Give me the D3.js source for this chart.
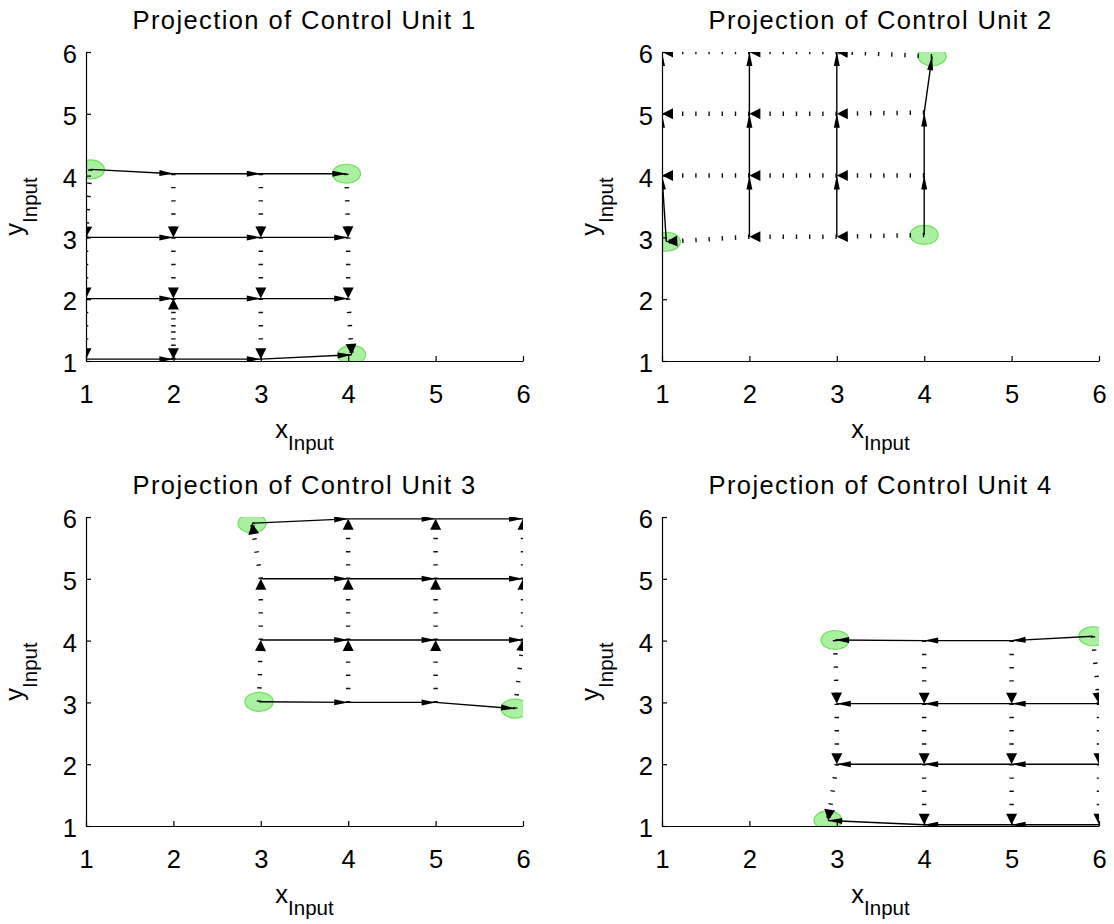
<!DOCTYPE html>
<html>
<head>
<meta charset="utf-8">
<script src="https://cdn.jsdelivr.net/npm/d3@7"></script>
<style>
  html, body { margin: 0; padding: 0; background: #fff; }
  svg { display: block; }
  text { font-family: "Liberation Sans", Arial, Helvetica, sans-serif; fill: #000; }
</style>
</head>
<body>
<svg id="chart" width="1114" height="924"></svg>
<script>
// Axis ticks shared by every panel
const tickValues = [1, 2, 3, 4, 5, 6];
const titles = [
  "Projection of Control Unit 1",
  "Projection of Control Unit 2",
  "Projection of Control Unit 3",
  "Projection of Control Unit 4"
];

// Node grids: grid[a][b] = [x, y].
// Solid arrows run along b (a fixed), dotted arrows run along a (b fixed).
const unit1Grid = [
  [[1.05, 4.10], [2, 4.03], [3, 4.03], [3.98, 4.03]],
  [[1, 3.00], [2, 3.00], [3, 3.00], [4, 3.00]],
  [[1, 2.01], [2, 2.01], [3, 2.01], [4, 2.01]],
  [[1, 1.03], [2, 1.03], [3, 1.03], [4.04, 1.10]]
];
const unit2Grid = [
  [[4, 3.04], [4, 4.00], [4, 5.02], [4.09, 5.93]],
  [[3, 3.01], [3, 4.00], [3, 5.00], [3, 6.00]],
  [[2, 3.01], [2, 4.00], [2, 5.00], [2, 6.00]],
  [[1.05, 2.93], [1, 4.00], [1, 5.00], [1, 6.00]]
];
const unit3Grid = [
  [[2.98, 3.01], [4, 3.00], [5, 3.00], [5.91, 2.90]],
  [[3, 4.01], [4, 4.01], [5, 4.01], [6, 4.01]],
  [[3, 5.00], [4, 5.00], [5, 5.00], [6, 5.00]],
  [[2.90, 5.90], [4, 5.97], [5, 5.97], [6, 5.97]]
];
const unit4Grid = [
  [[5.93, 4.07], [5, 4.00], [4, 4.00], [2.98, 4.01]],
  [[6, 2.98], [5, 2.98], [4, 2.98], [3, 2.98]],
  [[6, 2.00], [5, 2.00], [4, 2.00], [3, 2.00]],
  [[6, 1.02], [5, 1.02], [4, 1.02], [2.90, 1.09]]
];

// Highlighted corner nodes
const unit1Marks = [[1.05, 4.10], [3.98, 4.03], [4.04, 1.10]];
const unit2Marks = [[4, 3.04], [4.09, 5.93], [1.05, 2.93]];
const unit3Marks = [[2.98, 3.01], [5.91, 2.90], [2.90, 5.90]];
const unit4Marks = [[5.93, 4.07], [2.98, 4.01], [2.90, 1.09]];

// Extra dotted arrows (from, to)
const unit1ExtraDotted = [[[2, 1.03], [2, 2.01]]];

const units = [
  { grid: unit1Grid, marks: unit1Marks, extra: unit1ExtraDotted },
  { grid: unit2Grid, marks: unit2Marks, extra: [] },
  { grid: unit3Grid, marks: unit3Marks, extra: [] },
  { grid: unit4Grid, marks: unit4Marks, extra: [] }
];

// Panel layout
const panelLeft = [86, 662];
const panelTop = [52, 517];
const pw = 437, ph = 309;
const fs = 25.5, subFs = 20.5;

const svg = d3.select("#chart");

function headPath(p0, p1, len, hw) {
  const dx = p1[0] - p0[0], dy = p1[1] - p0[1];
  const d = Math.hypot(dx, dy) || 1;
  const ux = dx / d, uy = dy / d;
  const bx = p1[0] - ux * len, by = p1[1] - uy * len;
  const px = -uy, py = ux;
  return `M${p1[0]},${p1[1]}L${bx + px * hw},${by + py * hw}L${bx - px * hw},${by - py * hw}Z`;
}

units.forEach((u, k) => {
  const left = panelLeft[k % 2], top = panelTop[Math.floor(k / 2)];
  const x = d3.scaleLinear().domain([1, 6]).range([0, pw]);
  const y = d3.scaleLinear().domain([1, 6]).range([ph, 0]);
  const P = p => [x(p[0]), y(p[1])];

  const g = svg.append("g").attr("transform", `translate(${left},${top})`);
  const clipId = `clip${k}`;
  g.append("clipPath").attr("id", clipId)
    .append("rect").attr("x", 0).attr("y", 0).attr("width", pw).attr("height", ph);

  const plot = g.append("g").attr("clip-path", `url(#${clipId})`);

  // Build arrow lists from the grid
  const solid = [], dotted = [];
  const G = u.grid;
  for (let a = 0; a < G.length; a++)
    for (let b = 0; b + 1 < G[a].length; b++) solid.push([G[a][b], G[a][b + 1]]);
  for (let b = 0; b < G[0].length; b++)
    for (let a = 0; a + 1 < G.length; a++) dotted.push([G[a][b], G[a + 1][b]]);
  u.extra.forEach(e => dotted.push(e));

  // Highlighted nodes
  plot.selectAll("ellipse.mark").data(u.marks).join("ellipse")
    .attr("class", "mark")
    .attr("cx", d => x(d[0])).attr("cy", d => y(d[1]))
    .attr("rx", 14).attr("ry", 9.5)
    .attr("fill", "#a9f0a0").attr("stroke", "#6fe05f").attr("stroke-width", 1.2);

  // Dotted arrows
  plot.selectAll("line.dot").data(dotted).join("line")
    .attr("class", "dot")
    .attr("x1", d => x(d[0][0])).attr("y1", d => y(d[0][1]))
    .attr("x2", d => x(d[1][0])).attr("y2", d => y(d[1][1]))
    .attr("stroke", "#111").attr("stroke-width", 4.5)
    .attr("stroke-dasharray", "1.4,11.8");
  plot.selectAll("path.dothead").data(dotted).join("path")
    .attr("class", "dothead")
    .attr("d", d => headPath(P(d[0]), P(d[1]), 11, 5.5))
    .attr("fill", "#000");

  // Solid arrows
  plot.selectAll("line.sol").data(solid).join("line")
    .attr("class", "sol")
    .attr("x1", d => x(d[0][0])).attr("y1", d => y(d[0][1]))
    .attr("x2", d => x(d[1][0])).attr("y2", d => y(d[1][1]))
    .attr("stroke", "#000").attr("stroke-width", 1.4);
  plot.selectAll("path.solhead").data(solid).join("path")
    .attr("class", "solhead")
    .attr("d", d => headPath(P(d[0]), P(d[1]), 14, 3))
    .attr("fill", "#000");

  // Axes (left and bottom only, ticks pointing inward)
  const xAxis = g.append("g").attr("transform", `translate(0,${ph})`)
    .call(d3.axisBottom(x).tickValues(tickValues).tickFormat(d3.format("d"))
      .tickSizeInner(-5).tickSizeOuter(0).tickPadding(24));
  const yAxis = g.append("g")
    .call(d3.axisLeft(y).tickValues(tickValues).tickFormat(d3.format("d"))
      .tickSizeInner(-5).tickSizeOuter(0).tickPadding(9));
  [xAxis, yAxis].forEach(ax => {
    ax.select(".domain").attr("stroke", "#000").attr("stroke-width", 1.2);
    ax.selectAll(".tick line").attr("stroke", "#000").attr("stroke-width", 1.2);
    ax.selectAll(".tick text").attr("font-size", fs)
      .attr("font-family", "Liberation Sans, Arial, sans-serif").attr("fill", "#000");
  });
  yAxis.selectAll(".tick text").attr("dy", "0.42em");

  // Axis labels
  const xl = g.append("text").attr("x", pw / 2).attr("y", ph + 77)
    .attr("text-anchor", "middle").attr("font-size", fs);
  xl.append("tspan").text("x");
  xl.append("tspan").attr("font-size", subFs).attr("dy", 12).text("Input");

  const yl = g.append("text")
    .attr("transform", `translate(-63,${ph / 2}) rotate(-90)`)
    .attr("text-anchor", "middle").attr("font-size", fs);
  yl.append("tspan").text("y");
  yl.append("tspan").attr("font-size", subFs).attr("dy", 14).text("Input");

  // Title
  g.append("text").attr("x", pw / 2).attr("y", -23)
    .attr("text-anchor", "middle").attr("font-size", fs)
    .attr("letter-spacing", 1.4)
    .text(titles[k]);
});
</script>
</body>
</html>
